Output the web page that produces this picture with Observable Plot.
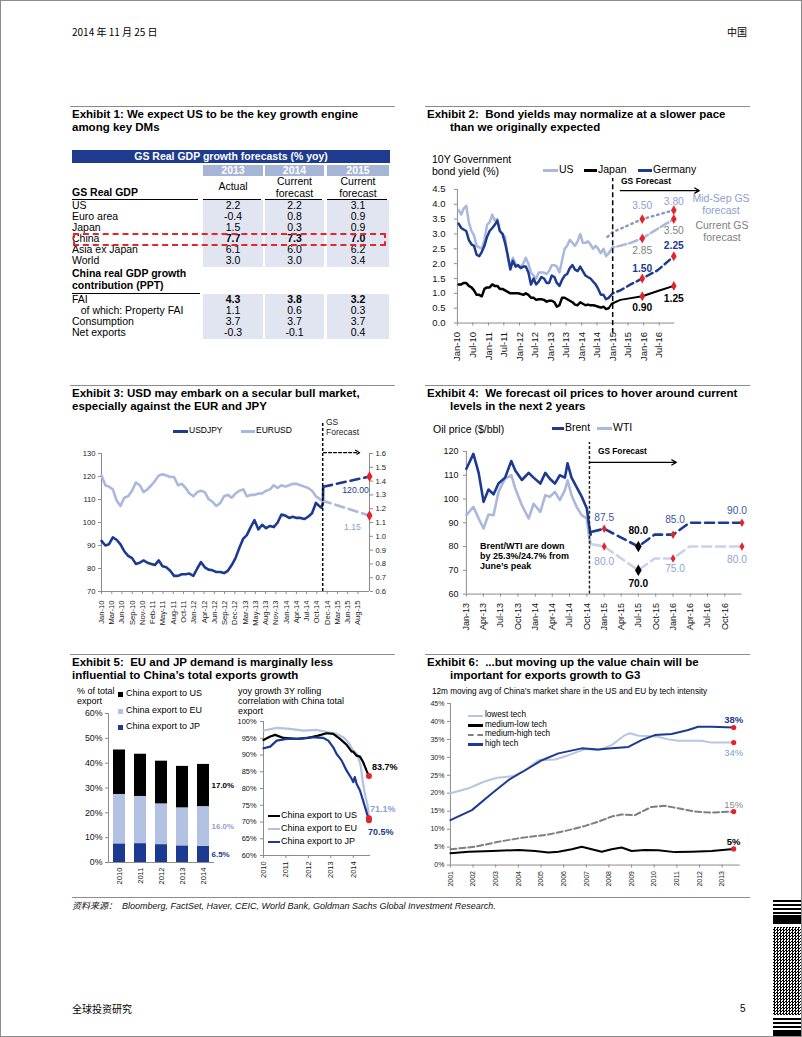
<!DOCTYPE html>
<html>
<head>
<meta charset="utf-8">
<script src="https://cdn.jsdelivr.net/npm/d3@7"></script>
<script src="https://cdn.jsdelivr.net/npm/@observablehq/plot@0.6"></script>
<style>
html,body{margin:0;padding:0;background:#fff;}
#page{position:relative;width:802px;height:1037px;box-sizing:border-box;border:1px solid #8c8c8c;overflow:hidden;background:#fff;font-family:"Liberation Sans",Arial,Helvetica,"Noto Sans CJK SC",sans-serif;color:#000;}
#page svg{overflow:visible;}
</style>
</head>
<body>
<div id="page"></div>
<script>
// ================= DATA =================
// Exhibit 1 table
const ex1Header = "GS Real GDP growth forecasts (% yoy)";
const ex1Years = ["2013", "2014", "2015"];
const ex1Sub = [["Actual"], ["Current", "forecast"], ["Current", "forecast"]];
const ex1GdpRows = ["US", "Euro area", "Japan", "China", "Asia ex Japan", "World"];
const ex1GdpVals = [[2.2, 2.2, 3.1], [-0.4, 0.8, 0.9], [1.5, 0.3, 0.9], [7.7, 7.3, 7.0], [6.1, 6.0, 6.2], [3.0, 3.0, 3.4]];
const ex1ContribRows = ["FAI", "   of which: Property FAI", "Consumption", "Net exports"];
const ex1ContribVals = [[4.3, 3.8, 3.2], [1.1, 0.6, 0.3], [3.7, 3.7, 3.7], [-0.3, -0.1, 0.4]];

// Exhibit 2: monthly 10Y yields Jan-10 .. Nov-14
const ex2YTicks = [0, 0.5, 1, 1.5, 2, 2.5, 3, 3.5, 4, 4.5];
const ex2XTicks = ["Jan-10","Jul-10","Jan-11","Jul-11","Jan-12","Jul-12","Jan-13","Jul-13","Jan-14","Jul-14","Jan-15","Jul-15","Jan-16","Jul-16"];
const ex2US = [3.8,3.65,3.85,3.95,3.4,3.1,2.95,2.6,2.55,2.5,2.8,3.3, 3.4,3.65,3.45,3.5,3.1,3.0,2.9,2.2,1.9,2.2,2.0,1.9, 1.9,2.0,2.2,2.0,1.7,1.6,1.5,1.7,1.7,1.7,1.65,1.75, 1.95,1.95,1.9,1.7,2.1,2.5,2.6,2.8,2.7,2.6,2.75,3.0, 2.7,2.7,2.75,2.65,2.5,2.6,2.5,2.35,2.5,2.25,2.35];
const ex2Japan = [1.3,1.3,1.35,1.35,1.25,1.2,1.1,0.95,0.95,0.9,1.15,1.2, 1.2,1.3,1.25,1.25,1.15,1.15,1.1,1.05,1.0,1.0,1.0,1.0, 0.98,0.95,1.0,0.95,0.85,0.85,0.78,0.8,0.8,0.78,0.72,0.75, 0.75,0.7,0.55,0.6,0.85,0.85,0.8,0.75,0.7,0.62,0.6,0.7, 0.65,0.6,0.62,0.6,0.6,0.58,0.55,0.52,0.55,0.47,0.5];
const ex2Germany = [3.35,3.2,3.15,3.1,2.8,2.65,2.6,2.3,2.25,2.4,2.6,2.9, 3.1,3.2,3.3,3.45,3.1,3.0,2.7,2.3,1.8,2.1,1.9,1.95, 1.85,1.9,1.9,1.7,1.3,1.5,1.3,1.4,1.55,1.5,1.35,1.35, 1.6,1.55,1.35,1.25,1.45,1.6,1.65,1.85,1.95,1.8,1.75,1.9, 1.75,1.6,1.55,1.5,1.4,1.3,1.15,0.95,0.95,0.8,0.85];
const ex2FcUSCurDates = ["2014-11-15","2015-01-01","2015-04-01","2015-08-01","2015-12-15","2016-04-15","2016-08-15","2016-12-20"];
const ex2FcUSCurVals = [2.35,2.55,2.6,2.7,2.85,3.07,3.28,3.5];
const ex2FcUSSepDates = ["2014-11-01","2015-01-01","2015-12-15","2016-12-20"];
const ex2FcUSSepVals = [2.9,3.06,3.5,3.8];
const ex2FcJpDates = ["2014-11-15","2014-12-20","2015-04-01","2015-12-15","2016-06-15","2016-12-20"];
const ex2FcJpVals = [0.5,0.65,0.78,0.9,1.08,1.25];
const ex2FcDeDates = ["2014-11-15","2015-01-01","2015-04-01","2015-08-01","2015-12-15","2016-06-15","2016-12-20"];
const ex2FcDeVals = [0.85,1.0,1.1,1.3,1.5,1.78,2.25];
const ex2MarkDates = ["2015-12-15","2016-12-20"];
const ex2MarkVals = [[3.5,3.8],[2.85,3.5],[1.5,2.25],[0.9,1.25]];
const ex2Labels = [
  {d:"2015-12-15", v:3.5, t:"3.50", c:"#8ea0d2", dy:-13},
  {d:"2016-12-20", v:3.8, t:"3.80", c:"#8ea0d2", dy:-9},
  {d:"2015-12-15", v:2.85, t:"2.85", c:"#7f7f7f", dy:12},
  {d:"2016-12-20", v:3.5, t:"3.50", c:"#7f7f7f", dy:11.5},
  {d:"2015-12-15", v:1.5, t:"1.50", c:"#1d3a92", dy:-10, b:1},
  {d:"2016-12-20", v:2.25, t:"2.25", c:"#1d3a92", dy:-11, b:1},
  {d:"2015-12-15", v:0.9, t:"0.90", c:"#000", dy:11, b:1},
  {d:"2016-12-20", v:1.25, t:"1.25", c:"#000", dy:13, b:1}
];

// Exhibit 3: monthly FX Jan-10 .. Oct-14
const ex3LeftTicks = [70, 80, 90, 100, 110, 120, 130];
const ex3RightTicks = [0.6, 0.7, 0.8, 0.9, 1.0, 1.1, 1.2, 1.3, 1.4, 1.5, 1.6];
const ex3XLabels = ["Jan-10","Mar-10","Jun-10","Sep-10","Nov-10","Feb-11","May-11","Aug-11","Oct-11","Jan-12","Apr-12","Jun-12","Sep-12","Dec-12","Mar-13","May-13","Aug-13","Nov-13","Jan-14","Apr-14","Jul-14","Oct-14","Dec-14","Mar-15","Jun-15","Aug-15"];
const ex3USDJPY = [92,90,90.5,93.5,92.5,90.5,87.5,85.5,84.5,82,82.5,83.5, 82.5,82,81.5,83.5,81,80.5,79,76.8,76.8,77.5,77.5,77.8, 76.8,80,82.8,80.5,79.5,79.2,78.5,78.5,78,79,81.5,84.5, 89,93,94.5,98,101,97,99,97.5,98.5,98,100,103.5, 103,102,102.5,102,102,101.5,102.5,104,108.5,107];
const ex3JpyTailDates = ["2014-10-15","2014-10-27","2014-10-29"];
const ex3JpyTailVals = [106.5,108.5,115.5];
const ex3EURUSD = [1.44,1.37,1.36,1.34,1.26,1.22,1.28,1.29,1.33,1.39,1.37,1.32, 1.34,1.37,1.40,1.44,1.45,1.44,1.43,1.43,1.37,1.38,1.35,1.31, 1.29,1.32,1.33,1.32,1.27,1.25,1.22,1.24,1.29,1.30,1.28,1.31, 1.33,1.34,1.29,1.30,1.30,1.31,1.31,1.33,1.34,1.37,1.35,1.37, 1.36,1.37,1.38,1.38,1.37,1.36,1.35,1.33,1.29,1.27];
const ex3EurTailDates = ["2014-10-20"];
const ex3EurTailVals = [1.26];
const ex3JpyFcDates = ["2014-10-29","2015-11-01"];
const ex3JpyFcVals = [115.5,120];
const ex3EurFcDates = ["2014-10-20","2015-11-01"];
const ex3EurFcVals = [1.26,1.15];

// Exhibit 4: oil
const ex4YTicks = [60, 70, 80, 90, 100, 110, 120];
const ex4XTicks = ["Jan-13","Apr-13","Jul-13","Oct-13","Jan-14","Apr-14","Jul-14","Oct-14","Jan-15","Apr-15","Jul-15","Oct-15","Jan-16","Apr-16","Jul-16","Oct-16"];
const ex4HistDates = ["2013-01-01","2013-02-07","2013-03-07","2013-04-02","2013-04-28","2013-05-25","2013-06-20","2013-07-25","2013-08-27","2013-09-17","2013-10-22","2013-11-27","2013-12-23","2014-01-28","2014-02-23","2014-03-19","2014-04-15","2014-05-11","2014-06-07","2014-06-21","2014-07-12","2014-08-08","2014-09-04","2014-10-01","2014-10-13","2014-10-22"];
const ex4Brent = [112.7,119,111,98.8,104,102,106.5,109,116,112,108,111,109,106.5,111,108.5,106.5,110,109,115,109,105,101,96,89,85];
const ex4WTI = [93.2,96.7,91.8,87.6,93.5,93.2,103,108.6,110,104.4,97.4,91.8,98,94.6,101.6,100.9,103,99.5,103.7,107.9,101.6,96.7,93.2,91.8,84.2,81];
const ex4FcDates = ["2014-10-28","2015-01-01","2015-07-01","2015-09-25","2016-01-01","2016-03-28","2016-12-31"];
const ex4BrentFc = [86.2,87.5,80,85,85,90,90];
const ex4WTIFc = [81,80,70,75,75,80,80];
const ex4RedDates = ["2015-01-01","2016-01-01","2016-12-31"];
const ex4BrentRed = [87.5,85,90];
const ex4WTIRed = [80,75,80];
const ex4BlackDates = ["2015-07-01","2015-07-01"];
const ex4BlackVals = [80,70];
const ex4Labels = [
  {d:"2015-01-01", v:87.5, t:"87.5", c:"#3b56a3", dy:-11},
  {d:"2015-07-01", v:80, t:"80.0", c:"#000", dy:-16, b:1},
  {d:"2016-01-01", v:85, t:"85.0", c:"#3b56a3", dy:-15, dx:2},
  {d:"2016-12-31", v:90, t:"90.0", c:"#3b56a3", dy:-12, dx:-5},
  {d:"2015-01-01", v:80, t:"80.0", c:"#8fa2d2", dy:15},
  {d:"2015-07-01", v:70, t:"70.0", c:"#000", dy:13, b:1},
  {d:"2016-01-01", v:75, t:"75.0", c:"#8fa2d2", dy:10, dx:2},
  {d:"2016-12-31", v:80, t:"80.0", c:"#8fa2d2", dy:13, dx:-5}
];

// Exhibit 5 left: share of China's exports (%)
const ex5Years = ["2010", "2011", "2012", "2013", "2014"];
const ex5US = [17.9, 17.0, 17.2, 16.7, 17.0];
const ex5EU = [19.9, 19.0, 16.4, 15.3, 16.0];
const ex5JP = [7.5, 7.6, 7.2, 6.7, 6.5];
const ex5YTicks = [0, 10, 20, 30, 40, 50, 60];
// Exhibit 5 right: 3Y rolling correlation (%)
const ex5CorrYTicks = [60, 65, 70, 75, 80, 85, 90, 95, 100];
const ex5CorrXTicks = [2010, 2011, 2012, 2013, 2014];
const ex5UsX = [2010.0,2010.3,2010.52,2010.89,2011.48,2012.0,2012.44,2012.81,2013.11,2013.41,2013.7,2013.93,2014.0,2014.15,2014.3,2014.44,2014.59,2014.7];
const ex5UsY = [94.5,95.5,96.0,95.1,94.8,95.1,95.8,96.5,96.3,94.8,93.1,91.0,91.0,89.8,89.5,87.9,85.4,83.7];
const ex5EuX = [2010.0,2010.59,2011.19,2011.78,2012.37,2012.89,2013.26,2013.56,2013.78,2014.0,2014.18,2014.33,2014.44,2014.55,2014.63,2014.67,2014.7];
const ex5EuY = [97.3,98.1,97.8,97.3,97.5,96.8,96.3,95.3,93.8,91.3,90.3,86.9,81.4,77.4,75.4,73.5,71.1];
const ex5JpX = [2010.0,2010.3,2010.59,2011.04,2011.63,2012.07,2012.67,2012.89,2013.11,2013.26,2013.48,2013.7,2013.93,2014.0,2014.07,2014.15,2014.3,2014.44,2014.55,2014.67,2014.7];
const ex5JpY = [92.0,92.5,94.3,94.8,94.8,95.3,95.1,94.3,92.3,90.3,88.4,85.4,82.9,81.9,83.4,81.4,79.4,76.4,73.9,71.2,70.5];

// Exhibit 6: market share by tech intensity (%)
const ex6YTicks = [0, 5, 10, 15, 20, 25, 30, 35, 40, 45];
const ex6XTicks = [2001,2002,2003,2004,2005,2006,2007,2008,2009,2010,2011,2012,2013];
const ex6LowX = [2001,2001.81,2002.47,2003.06,2003.79,2004.3,2004.89,2005.63,2006.21,2006.95,2007.53,2008.12,2008.71,2008.93,2009.3,2009.88,2010.18,2010.62,2011.06,2011.65,2012.09,2012.53,2013.51];
const ex6LowY = [20,21.4,23.2,24.3,24.8,26.4,29.2,29.4,30.6,32.3,32,33.4,36.2,36.7,36,35.9,35.7,35,34.6,34.6,34.6,34.1,34.1];
const ex6HighX = [2001,2001.95,2002.84,2003.57,2004.3,2005.04,2005.77,2006.8,2007.53,2008.12,2008.86,2009.44,2010.03,2010.77,2011.5,2011.94,2012.53,2013.51];
const ex6HighY = [12.5,15.3,20,23.7,26.4,29.2,31.1,32.5,32.2,32.5,32.9,34.8,36.2,36.5,37.6,38.5,38.5,38.3];
const ex6MhX = [2001,2002.1,2003.13,2004.16,2005.33,2006.07,2006.95,2007.53,2008.12,2008.56,2009.15,2009.88,2010.47,2011.06,2011.79,2012.53,2013.51];
const ex6MhY = [4.4,5.1,6.5,7.6,8.5,9.5,10.9,12.1,13.5,14.1,13.9,16.2,16.5,15.8,14.9,14.6,14.9];
const ex6MlX = [2001,2001.81,2002.84,2004.01,2004.74,2005.33,2005.77,2006.36,2006.8,2007.24,2007.68,2008.12,2008.56,2009.0,2009.59,2010.18,2010.91,2011.65,2012.53,2013.51];
const ex6MlY = [3.3,3.7,3.9,4.2,3.9,3.5,3.7,4.4,5.1,4.4,3.7,4.4,4.9,3.9,4.2,4.1,3.6,3.7,3.9,4.5];

// ================= HELPERS =================
const FONT = '"Liberation Sans", Arial, Helvetica, sans-serif';
const CJK = '"Noto Sans CJK SC", "Liberation Sans", sans-serif';
const NAVY = "#1d3a92", LIGHT = "#a9b8dc", RED = "#e3242b", AXIS = "#8c8c8c";
const page = document.getElementById("page");
const utc = d3.utcParse("%Y-%m-%d");
const parseMon = d3.utcParse("%b-%y");
const fmtMon = d3.utcFormat("%b-%y");

function div(x, y, css) {
  const e = document.createElement("div");
  e.style.cssText = `position:absolute;left:${x - 1}px;top:${y - 1}px;` + css;
  page.appendChild(e);
  return e;
}
function text(str, x, yc, o = {}) {
  const s = o.size || 10;
  const tr = o.anchor === "middle" ? "transform:translateX(-50%);" : o.anchor === "end" ? "transform:translateX(-100%);" : "";
  const e = div(x, yc - s * 0.55, `font-size:${s}px;line-height:1;white-space:pre;${o.bold ? "font-weight:bold;" : ""}${o.italic ? "font-style:italic;" : ""}color:${o.color || "#000"};${tr}${o.family ? "font-family:" + o.family + ";" : ""}`);
  e.textContent = str;
  return e;
}
function hline(x1, x2, y, color, w = 1.5, style = "solid") {
  return div(x1, y - w / 2, `width:${x2 - x1}px;height:0;border-top:${w}px ${style} ${color};`);
}
function rect(x, y, w, h, fill) { return div(x, y, `width:${w}px;height:${h}px;background:${fill};`); }
function place(el, x, y) { const d = div(x, y, ""); d.appendChild(el); return d; }
function title(lineY, x1, x2, line1, line2, indent) {
  hline(x1, x2, lineY, AXIS, 1.5);
  text(line1, x1 + 2, lineY + 8, {size: 11.5, bold: true});
  text(line2, x1 + 2 + (indent || 0), lineY + 21.5, {size: 11.5, bold: true});
}
function monthly(vals, y, m, day) { return vals.map((v, i) => ({date: new Date(Date.UTC(y, m + i, day)), value: v})); }
function pairs(dates, vals) { return dates.map((d, i) => ({date: utc(d), value: vals[i]})); }
function xy(xs, ys) { return xs.map((x, i) => ({x, y: ys[i]})); }
function labelMarks(list, size) {
  return list.map(l => Plot.text([{date: utc(l.d), value: l.v, t: l.t}], {
    x: "date", y: "value", text: "t", fill: l.c, fontWeight: l.b ? "bold" : "normal",
    dx: l.dx || 0, dy: l.dy || 0, fontSize: size, textAnchor: "middle"
  }));
}
function legendLine(x1, x2, y, color, w = 3, dashed = false) {
  if (dashed) return div(x1, y - w / 2, `width:${x2 - x1}px;height:0;border-top:${w}px dashed ${color};`);
  return rect(x1, y - w / 2, x2 - x1, w, color);
}
const baseStyle = {fontFamily: FONT, color: "#111", background: "transparent", overflow: "visible"};

// ================= HEADER / FOOTER =================
text("2014 年 11 月 25 日", 72, 32, {size: 10, family: CJK});
text("中国", 727, 32, {size: 10, family: CJK});
hline(72, 750, 898, AXIS, 1.5);
text("资料来源：  Bloomberg, FactSet, Haver, CEIC, World Bank, Goldman Sachs Global Investment Research.", 72, 907, {size: 9, italic: true, color: "#111"});
text("全球投资研究", 72, 1009, {size: 10, family: CJK});
text("5", 740, 1009, {size: 10});
// side barcode strip (decorative)
rect(773, 900, 30, 2, "#000"); rect(773, 904, 30, 2, "#000"); rect(773, 908, 30, 2, "#000"); rect(773, 912, 30, 2, "#000");
rect(773, 915, 30, 9, "#000");
div(773, 927, "width:30px;height:88px;background:repeating-conic-gradient(#000 0 25%, #fff 0 50%) 0 0/3px 3px;");
rect(773, 1018, 30, 2, "#000"); rect(773, 1022, 30, 2, "#000"); rect(773, 1026, 30, 2, "#000"); rect(773, 1030, 30, 7, "#000");

// ================= EXHIBIT 1 (table) =================
title(107, 70, 395, "Exhibit 1: We expect US to be the key growth engine", "among key DMs", 0);
const cols = [{x: 203, w: 60}, {x: 265, w: 59}, {x: 327, w: 62}];
rect(72, 150, 318, 13, "#1f3b8f");
text(ex1Header, 231, 156.5, {size: 10.5, bold: true, color: "#fff", anchor: "middle"});
ex1Years.forEach((y, i) => {
  const c = cols[i];
  rect(c.x, 165, c.w, 11, "#a6b4d6");
  text(y, c.x + c.w / 2, 170.5, {size: 10.5, bold: true, color: "#fff", anchor: "middle"});
  const sub = ex1Sub[i];
  if (sub.length === 1) text(sub[0], c.x + c.w / 2, 187, {size: 10.5, anchor: "middle"});
  else { text(sub[0], c.x + c.w / 2, 181.5, {size: 10.5, anchor: "middle"}); text(sub[1], c.x + c.w / 2, 194, {size: 10.5, anchor: "middle"}); }
  hline(c.x, c.x + c.w - 2, 199.5, "#000", 1);
  rect(c.x, 200, c.w, 67, "#e0e5f1");
  rect(c.x, 294, c.w, 45, "#e0e5f1");
});
text("GS Real GDP", 72, 193, {size: 10.5, bold: true});
hline(72, 198, 199.5, "#000", 1);
ex1GdpRows.forEach((r, i) => {
  const yc = 205.5 + i * 11.1;
  text(r, 72, yc, {size: 10.5});
  ex1GdpVals[i].forEach((v, j) => text(v.toFixed(1), cols[j].x + cols[j].w / 2, yc, {size: 10.5, bold: r === "China", anchor: "middle"}));
});
text("China real GDP growth", 72, 274, {size: 10.5, bold: true});
text("contribution (PPT)", 72, 285.5, {size: 10.5, bold: true});
hline(72, 200, 293, "#000", 1);
ex1ContribRows.forEach((r, i) => {
  const yc = 299.5 + i * 11.2;
  text(r, 72, yc, {size: 10.5});
  ex1ContribVals[i].forEach((v, j) => text(v.toFixed(1), cols[j].x + cols[j].w / 2, yc, {size: 10.5, bold: r === "FAI", anchor: "middle"}));
});
div(73, 233, "width:309px;height:9px;border:2px dashed #e3262b;");

// ================= EXHIBIT 2 =================
title(107, 425, 750, "Exhibit 2:  Bond yields may normalize at a slower pace", "than we originally expected", 23);
text("10Y Government", 432, 160, {size: 10.5});
text("bond yield (%)", 432, 171.5, {size: 10.5});
legendLine(543, 558, 170, LIGHT); text("US", 559, 170, {size: 10.5});
legendLine(584, 597, 170, "#000"); text("Japan", 598, 170, {size: 10.5});
legendLine(638, 652, 170, NAVY); text("Germany", 653, 170, {size: 10.5});
text("GS Forecast", 621, 182, {size: 8.5, bold: true});
text("Mid-Sep GS", 721, 199, {size: 10.5, color: "#8ea0d2", anchor: "middle"});
text("forecast", 721, 211, {size: 10.5, color: "#8ea0d2", anchor: "middle"});
text("Current GS", 722, 226, {size: 10.5, color: "#808080", anchor: "middle"});
text("forecast", 722, 238, {size: 10.5, color: "#808080", anchor: "middle"});

const ex2Rule = [{x: utc("2015-01-01")}];
const ex2Arrow = [{x1: utc("2015-04-01"), x2: utc("2017-10-15"), y: 4.46}];
const ex2 = Plot.plot({
  width: 377, height: 215, marginLeft: 32, marginRight: 127, marginTop: 39, marginBottom: 42,
  style: {...baseStyle, fontSize: "9.5px"},
  x: {type: "utc", domain: [utc("2010-01-01"), utc("2017-01-01")]},
  y: {domain: [0, 4.5]},
  marks: [
    Plot.ruleY([0], {stroke: AXIS}),
    Plot.ruleX([utc("2010-01-01")], {stroke: AXIS}),
    Plot.axisY(ex2YTicks, {tickFormat: d3.format(".1f"), tickSize: 3, tickPadding: 9, stroke: AXIS, fill: "#111", label: null}),
    Plot.axisX(ex2XTicks.map(parseMon), {tickFormat: fmtMon, tickRotate: -90, tickSize: 3, stroke: AXIS, fill: "#111", label: null}),
    Plot.line(monthly(ex2US, 2010, 0, 15), {x: "date", y: "value", stroke: LIGHT, strokeWidth: 2.5}),
    Plot.line(monthly(ex2Germany, 2010, 0, 15), {x: "date", y: "value", stroke: NAVY, strokeWidth: 2.5}),
    Plot.line(monthly(ex2Japan, 2010, 0, 15), {x: "date", y: "value", stroke: "#000", strokeWidth: 2.5}),
    Plot.line(pairs(ex2FcUSSepDates, ex2FcUSSepVals), {x: "date", y: "value", stroke: "#8d97bd", strokeWidth: 2.5, strokeDasharray: "1.5,4", strokeLinecap: "round"}),
    Plot.line(pairs(ex2FcUSCurDates, ex2FcUSCurVals), {x: "date", y: "value", stroke: LIGHT, strokeWidth: 2.5, strokeDasharray: "9,3"}),
    Plot.line(pairs(ex2FcDeDates, ex2FcDeVals), {x: "date", y: "value", stroke: NAVY, strokeWidth: 2.5, strokeDasharray: "7,4"}),
    Plot.line(pairs(ex2FcJpDates, ex2FcJpVals), {x: "date", y: "value", stroke: "#000", strokeWidth: 2}),
    Plot.ruleX(ex2Rule, {x: "x", y1: -0.35, y2: 4.87, stroke: "#000", strokeWidth: 1.5, strokeDasharray: "5,3"}),
    Plot.arrow(ex2Arrow, {x1: "x1", x2: "x2", y1: "y", y2: "y", stroke: "#000", strokeWidth: 1.3, headLength: 6}),
    ...ex2MarkVals.map(vs => Plot.dot(pairs(ex2MarkDates, vs), {x: "date", y: "value", symbol: "diamond", r: 3, fill: RED})),
    ...labelMarks(ex2Labels, 10.3)
  ]
});
place(ex2, 425, 150);

// ================= EXHIBIT 3 =================
title(386, 70, 395, "Exhibit 3: USD may embark on a secular bull market,", "especially against the EUR and JPY", 0);
legendLine(173, 188, 431, NAVY); text("USDJPY", 189, 431, {size: 8.5});
legendLine(241, 255, 431, LIGHT); text("EURUSD", 256, 431, {size: 8.5});
text("GS", 326, 423, {size: 8.5, color: "#222"});
text("Forecast", 326, 433, {size: 8.5, color: "#222"});
const eurToLeft = v => 70 + (v - 0.6) * 60;
const ex3T0 = +parseMon(ex3XLabels[0]), ex3T1 = +parseMon(ex3XLabels[ex3XLabels.length - 1]);
const ex3TickDates = ex3XLabels.map((l, i) => new Date(ex3T0 + i * (ex3T1 - ex3T0) / (ex3XLabels.length - 1)));
const ex3TickMap = new Map(ex3TickDates.map((d, i) => [+d, ex3XLabels[i]]));
const ex3Jpy = monthly(ex3USDJPY, 2010, 0, 1).concat(pairs(ex3JpyTailDates, ex3JpyTailVals));
const ex3Eur = monthly(ex3EURUSD, 2010, 0, 1).concat(pairs(ex3EurTailDates, ex3EurTailVals)).map(d => ({date: d.date, value: eurToLeft(d.value)}));
const ex3EurFc = pairs(ex3EurFcDates, ex3EurFcVals).map(d => ({date: d.date, value: eurToLeft(d.value)}));
const ex3JpyFc = pairs(ex3JpyFcDates, ex3JpyFcVals);
const ex3 = Plot.plot({
  width: 330, height: 200, marginLeft: 31, marginRight: 31, marginTop: 13, marginBottom: 49,
  style: {...baseStyle, fontSize: "7.6px"},
  x: {type: "utc", domain: [utc("2010-01-01"), utc("2015-11-01")]},
  y: {domain: [70, 130]},
  marks: [
    Plot.ruleY([70], {stroke: AXIS}),
    Plot.ruleX([utc("2010-01-01"), utc("2015-11-01")], {stroke: AXIS}),
    Plot.axisY(ex3LeftTicks, {tickSize: 3, tickPadding: 3, stroke: AXIS, fill: "#222", label: null}),
    Plot.axisY(ex3RightTicks.map(eurToLeft), {anchor: "right", tickSize: 3, tickPadding: 3, stroke: AXIS, fill: "#222", label: null, tickFormat: v => ((v - 70) / 60 + 0.6).toFixed(1)}),
    Plot.axisX(ex3TickDates, {tickFormat: d => ex3TickMap.get(+d), tickRotate: -90, tickSize: 3, stroke: AXIS, fill: "#222", label: null}),
    Plot.line(ex3Eur, {x: "date", y: "value", stroke: LIGHT, strokeWidth: 2.6}),
    Plot.line(ex3Jpy, {x: "date", y: "value", stroke: NAVY, strokeWidth: 2.6}),
    Plot.line(ex3EurFc, {x: "date", y: "value", stroke: LIGHT, strokeWidth: 2.6, strokeDasharray: "9,5"}),
    Plot.line(ex3JpyFc, {x: "date", y: "value", stroke: NAVY, strokeWidth: 2.6, strokeDasharray: "9,5"}),
    Plot.ruleX([{x: utc("2014-10-25")}], {x: "x", y1: 70, y2: 143.5, stroke: "#000", strokeWidth: 1.5, strokeDasharray: "3,2"}),
    Plot.arrow([{x1: utc("2014-11-01"), x2: utc("2015-08-15"), y: 130.4}], {x1: "x1", x2: "x2", y1: "y", y2: "y", stroke: "#000", strokeWidth: 1.2, strokeDasharray: "3,2", headLength: 6}),
    Plot.dot([ex3JpyFc[ex3JpyFc.length - 1], ex3EurFc[ex3EurFc.length - 1]], {x: "date", y: "value", symbol: "diamond", r: 3.2, fill: RED}),
    Plot.text([ex3JpyFc[ex3JpyFc.length - 1]], {x: "date", y: "value", text: d => d.value.toFixed(2), fill: NAVY, dx: -14, dy: 14, fontSize: 8.7}),
    Plot.text([ex3EurFc[ex3EurFc.length - 1]], {x: "date", y: "value", text: d => ((d.value - 70) / 60 + 0.6).toFixed(2), fill: "#8ea0d2", dx: -17, dy: 12, fontSize: 8.7})
  ]
});
place(ex3, 70, 440);

// ================= EXHIBIT 4 =================
title(386, 425, 750, "Exhibit 4:  We forecast oil prices to hover around current", "levels in the next 2 years", 23);
text("Oil price ($/bbl)", 433, 430, {size: 10.5});
legendLine(552, 564, 428, NAVY); text("Brent", 565, 428, {size: 10.5});
legendLine(597, 612, 428, LIGHT); text("WTI", 613, 428, {size: 10.5});
text("GS Forecast", 598, 452, {size: 8.3, bold: true});
text("Brent/WTI are down", 480, 547, {size: 9, bold: true});
text("by 25.3%/24.7% from", 480, 557, {size: 9, bold: true});
text("June’s peak", 480, 567, {size: 9, bold: true});
const ex4 = Plot.plot({
  width: 377, height: 200, marginLeft: 41, marginRight: 59.5, marginTop: 11, marginBottom: 46,
  style: {...baseStyle, fontSize: "9px"},
  x: {type: "utc", domain: [utc("2013-01-01"), utc("2017-01-01")]},
  y: {domain: [60, 120]},
  marks: [
    Plot.ruleY([60], {stroke: AXIS}),
    Plot.ruleX([utc("2013-01-01")], {stroke: AXIS}),
    Plot.axisY(ex4YTicks, {tickSize: 3, tickPadding: 5, stroke: AXIS, fill: "#111", label: null}),
    Plot.axisX(ex4XTicks.map(parseMon), {tickFormat: fmtMon, tickRotate: -90, tickSize: 3, stroke: AXIS, fill: "#111", label: null}),
    Plot.line(pairs(ex4HistDates, ex4WTI), {x: "date", y: "value", stroke: LIGHT, strokeWidth: 2.6}),
    Plot.line(pairs(ex4HistDates, ex4Brent), {x: "date", y: "value", stroke: NAVY, strokeWidth: 2.6}),
    Plot.line(pairs(ex4FcDates, ex4WTIFc), {x: "date", y: "value", stroke: "#c8d2ea", strokeWidth: 2.6, strokeDasharray: "9,5"}),
    Plot.line(pairs(ex4FcDates, ex4BrentFc), {x: "date", y: "value", stroke: NAVY, strokeWidth: 2.6, strokeDasharray: "9,5"}),
    Plot.ruleX([{x: utc("2014-10-15")}], {x: "x", y1: 60, y2: 123.8, stroke: "#222", strokeWidth: 1.5, strokeDasharray: "3,2"}),
    Plot.arrow([{x1: utc("2014-10-20"), x2: utc("2016-01-18"), y: 115.4}], {x1: "x1", x2: "x2", y1: "y", y2: "y", stroke: "#000", strokeWidth: 1.3, headLength: 6}),
    Plot.dot(pairs(ex4RedDates, ex4BrentRed), {x: "date", y: "value", symbol: "diamond", r: 2.6, fill: RED}),
    Plot.dot(pairs(ex4RedDates, ex4WTIRed), {x: "date", y: "value", symbol: "diamond", r: 2.6, fill: RED}),
    Plot.dot(pairs(ex4BlackDates, ex4BlackVals), {x: "date", y: "value", symbol: "diamond", r: 3.5, fill: "#000"}),
    ...labelMarks(ex4Labels, 10.2)
  ]
});
place(ex4, 425, 440);

// ================= EXHIBIT 5 =================
title(655, 70, 395, "Exhibit 5:  EU and JP demand is marginally less", "influential to China’s total exports growth", 0);
text("% of total", 77, 692, {size: 9});
text("export", 77, 702, {size: 9});
rect(118, 691.5, 5, 5, "#000"); text("China export to US", 126, 694, {size: 9});
rect(118, 708.5, 5, 5, "#b3c2e2"); text("China export to EU", 126, 711, {size: 9});
rect(118, 724.5, 5, 5, NAVY); text("China export to JP", 126, 727, {size: 9});
const ex5Tidy = [];
ex5Years.forEach((y, i) => {
  ex5Tidy.push({year: y, series: "JP", value: ex5JP[i]});
  ex5Tidy.push({year: y, series: "EU", value: ex5EU[i]});
  ex5Tidy.push({year: y, series: "US", value: ex5US[i]});
});
const ex5LastLabels = [
  {year: "2014", value: ex5JP[4] + ex5EU[4] + ex5US[4] / 2, t: ex5US[4].toFixed(1) + "%", c: "#000"},
  {year: "2014", value: ex5JP[4] + ex5EU[4] / 2, t: ex5EU[4].toFixed(1) + "%", c: "#8ea0d2"},
  {year: "2014", value: ex5JP[4] / 2, t: ex5JP[4].toFixed(1) + "%", c: NAVY}
];
const ex5a = Plot.plot({
  width: 170, height: 185, marginLeft: 38, marginRight: 27, marginTop: 8, marginBottom: 28,
  style: {...baseStyle, fontSize: "8.8px"},
  x: {domain: ex5Years, paddingInner: 0.45, paddingOuter: 0.15},
  y: {domain: [0, 60]},
  color: {domain: ["JP", "EU", "US"], range: [NAVY, "#b3c2e2", "#000"]},
  marks: [
    Plot.barY(ex5Tidy, {x: "year", y: "value", fill: "series"}),
    Plot.frame({anchor: "left", stroke: AXIS}),
    Plot.frame({anchor: "bottom", stroke: AXIS}),
    Plot.axisY(ex5YTicks, {tickSize: 3, tickPadding: 3, stroke: AXIS, fill: "#111", label: null, tickFormat: d => d + "%"}),
    Plot.axisX({tickRotate: -90, tickSize: 0, tickPadding: 5, fill: "#111", label: null, fontSize: 7.6}),
    ...ex5LastLabels.map(l => Plot.text([l], {x: "year", y: "value", text: "t", fill: l.c, fontWeight: "bold", dx: 8, textAnchor: "start", fontSize: 8}))
  ]
});
place(ex5a, 70, 705);

text("yoy growth 3Y rolling", 238, 692, {size: 9});
text("correlation with China total", 238, 702, {size: 9});
text("export", 238, 712, {size: 9});
const ex5b = Plot.plot({
  width: 175, height: 185, marginLeft: 38, marginRight: 30, marginTop: 16, marginBottom: 35,
  style: {...baseStyle, fontSize: "7.4px"},
  x: {domain: [2010, 2014.77]},
  y: {domain: [60, 100]},
  marks: [
    Plot.ruleY([60], {stroke: AXIS}),
    Plot.ruleX([2010], {stroke: AXIS}),
    Plot.axisY(ex5CorrYTicks, {tickSize: 3, tickPadding: 4, stroke: AXIS, fill: "#111", label: null, tickFormat: d => d + "%"}),
    Plot.axisX(ex5CorrXTicks, {tickRotate: -90, tickSize: 3, tickPadding: 3, stroke: AXIS, fill: "#111", label: null, tickFormat: d => String(d)}),
    Plot.line(xy(ex5EuX, ex5EuY), {x: "x", y: "y", stroke: "#b3c2e2", strokeWidth: 2.2}),
    Plot.line(xy(ex5UsX, ex5UsY), {x: "x", y: "y", stroke: "#000", strokeWidth: 2.2}),
    Plot.line(xy(ex5JpX, ex5JpY), {x: "x", y: "y", stroke: NAVY, strokeWidth: 2.2}),
    Plot.dot([xy(ex5UsX, ex5UsY).pop(), xy(ex5EuX, ex5EuY).pop(), xy(ex5JpX, ex5JpY).pop()], {x: "x", y: "y", r: 3, fill: RED}),
    Plot.text([xy(ex5UsX, ex5UsY).pop()], {x: "x", y: "y", text: d => d.y.toFixed(1) + "%", fill: "#000", fontWeight: "bold", textAnchor: "start", dx: 3, dy: -9, fontSize: 9}),
    Plot.text([xy(ex5EuX, ex5EuY).pop()], {x: "x", y: "y", text: d => d.y.toFixed(1) + "%", fill: "#8ea0d2", fontWeight: "bold", textAnchor: "start", dx: 1, dy: -9, fontSize: 9}),
    Plot.text([xy(ex5JpX, ex5JpY).pop()], {x: "x", y: "y", text: d => d.y.toFixed(1) + "%", fill: NAVY, fontWeight: "bold", textAnchor: "start", dx: -1, dy: 12, fontSize: 9})
  ]
});
place(ex5b, 225, 705);
legendLine(268, 280, 816, "#000", 2.5); text("China export to US", 281, 816, {size: 9});
legendLine(268, 280, 829, "#b3c2e2", 2.5); text("China export to EU", 281, 829, {size: 9});
legendLine(268, 280, 842, NAVY, 2.5); text("China export to JP", 281, 842, {size: 9});

// ================= EXHIBIT 6 =================
title(655, 425, 750, "Exhibit 6:  ...but moving up the value chain will be", "important for exports growth to G3", 23);
text("12m moving avg of China’s market share in the US and EU by tech intensity", 432, 693, {size: 8.2});
const ex6Ends = [xy(ex6HighX, ex6HighY).pop(), xy(ex6LowX, ex6LowY).pop(), xy(ex6MhX, ex6MhY).pop(), xy(ex6MlX, ex6MlY).pop()];
const ex6 = Plot.plot({
  width: 377, height: 200, marginLeft: 25, marginRight: 61.4, marginTop: 8, marginBottom: 30,
  style: {...baseStyle, fontSize: "7px"},
  x: {domain: [2001, 2013.8]},
  y: {domain: [0, 45]},
  marks: [
    Plot.ruleY([0], {stroke: AXIS}),
    Plot.ruleX([2001], {stroke: AXIS}),
    Plot.axisY(ex6YTicks, {tickSize: 3, tickPadding: 3, stroke: AXIS, fill: "#222", label: null, tickFormat: d => d + "%"}),
    Plot.axisX(ex6XTicks, {tickRotate: -90, tickSize: 3, tickPadding: 3, stroke: AXIS, fill: "#222", label: null, tickFormat: d => String(d)}),
    Plot.line(xy(ex6LowX, ex6LowY), {x: "x", y: "y", stroke: "#b7c5e4", strokeWidth: 2}),
    Plot.line(xy(ex6HighX, ex6HighY), {x: "x", y: "y", stroke: NAVY, strokeWidth: 2}),
    Plot.line(xy(ex6MhX, ex6MhY), {x: "x", y: "y", stroke: "#7f7f7f", strokeWidth: 2, strokeDasharray: "6,3"}),
    Plot.line(xy(ex6MlX, ex6MlY), {x: "x", y: "y", stroke: "#000", strokeWidth: 2}),
    Plot.dot(ex6Ends, {x: "x", y: "y", r: 2.6, fill: RED}),
    Plot.text([ex6Ends[0]], {x: "x", y: "y", text: d => Math.round(d.y) + "%", fill: NAVY, fontWeight: "bold", dy: -8, fontSize: 9.5}),
    Plot.text([ex6Ends[1]], {x: "x", y: "y", text: d => Math.round(d.y) + "%", fill: "#7f9acf", dy: 10, fontSize: 9.5}),
    Plot.text([ex6Ends[2]], {x: "x", y: "y", text: d => Math.round(d.y) + "%", fill: "#8a8a8a", dy: -7, fontSize: 9.5}),
    Plot.text([ex6Ends[3]], {x: "x", y: "y", text: d => Math.round(d.y) + "%", fill: "#000", fontWeight: "bold", dy: -7, fontSize: 9.5})
  ]
});
place(ex6, 425, 695);
legendLine(468, 483, 716, "#b7c5e4", 2); text("lowest tech", 485, 716, {size: 8.2});
legendLine(468, 483, 725.5, "#000", 2.5); text("medium-low tech", 485, 725.5, {size: 8.2});
legendLine(468, 483, 735, "#7f7f7f", 2, true); text("medium-high tech", 485, 735, {size: 8.2});
legendLine(468, 483, 744.5, NAVY, 2.5); text("high tech", 485, 744.5, {size: 8.2});
</script>
</body>
</html>
